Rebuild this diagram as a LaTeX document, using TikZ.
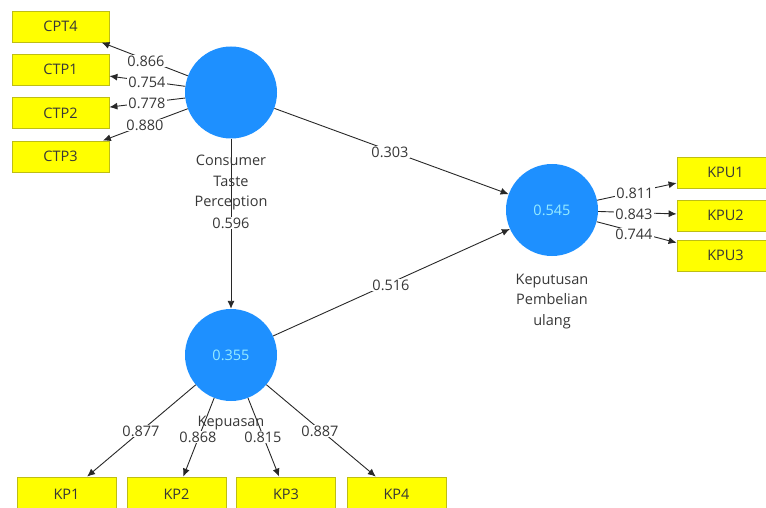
\documentclass[tikz,border=0pt]{standalone}
\usepackage{fontspec}
\setmainfont{Open Sans}
\usetikzlibrary{arrows.meta}
\definecolor{lvblue}{RGB}{30,144,255}
\definecolor{lvtext}{RGB}{150,235,255}
\definecolor{boxyellow}{RGB}{255,255,0}
\definecolor{boxborder}{RGB}{190,190,20}
\definecolor{txt}{RGB}{55,55,55}
\definecolor{lineg}{RGB}{40,40,40}
\begin{document}
\begin{tikzpicture}[x=1pt,y=-1pt,
  font=\fontsize{14.5}{20.5}\selectfont,
  ind/.style={draw=boxborder, line width=0.8pt, fill=boxyellow, minimum width=97pt, minimum height=31pt, inner sep=0pt, text=txt},
  lv/.style={circle, fill=lvblue, minimum size=92pt, inner sep=0pt, text=lvtext},
  conn/.style={draw=lineg, line width=0.9pt, -{Latex[length=8pt,width=7pt]}},
  wlab/.style={fill=white, inner sep=1pt, text=txt},
  nlab/.style={text=txt, align=center, inner sep=0pt}]
\useasboundingbox (0,0) rectangle (766,508);
% latent variables
\node[lv] (ctp) at (231,92.5) {};
\node[lv] (kep) at (231,355) {0.355};
\node[lv] (kpu) at (552,210) {0.545};
% indicators
\node[ind] (cpt4) at (60.5,26.5) {CPT4};
\node[ind] (ctp1) at (60.5,69.5) {CTP1};
\node[ind] (ctp2) at (60.5,113) {CTP2};
\node[ind] (ctp3) at (60.5,156.5) {CTP3};
\node[ind] (kpu1) at (725.5,172.5) {KPU1};
\node[ind] (kpu2) at (725.5,215.5) {KPU2};
\node[ind] (kpu3) at (725.5,255.5) {KPU3};
\node[ind, minimum width=99pt, minimum height=34pt] (kp1) at (66.5,494) {KP1};
\node[ind, minimum width=99pt, minimum height=34pt] (kp2) at (176.5,494) {KP2};
\node[ind, minimum width=99pt, minimum height=34pt] (kp3) at (286,494) {KP3};
\node[ind, minimum width=99pt, minimum height=34pt] (kp4) at (396.5,494) {KP4};
% connectors
\draw[conn] (ctp) -- (cpt4);
\draw[conn] (ctp) -- (ctp1);
\draw[conn] (ctp) -- (ctp2);
\draw[conn] (ctp) -- (ctp3);
\draw[conn] (ctp) -- (kep);
\draw[conn] (ctp) -- (kpu);
\draw[conn] (kep) -- (kpu);
\draw[conn] (kpu) -- (kpu1);
\draw[conn] (kpu) -- (kpu2);
\draw[conn] (kpu) -- (kpu3);
\draw[conn] (kep) -- (kp1);
\draw[conn] (kep) -- (kp2);
\draw[conn] (kep) -- (kp3);
\draw[conn] (kep) -- (kp4);
% edge labels
\node[wlab] (l1) at (146,61) {0.866};
\node[wlab] (l2) at (147,82) {0.754};
\node[wlab] (l3) at (147,103) {0.778};
\node[wlab] (l4) at (145,125) {0.880};
\node[wlab] (l5) at (231,223) {0.596};
\node[wlab] (l6) at (390,152) {0.303};
\node[wlab] (l7) at (391,285) {0.516};
\node[wlab] (l8) at (635,193) {0.811};
\node[wlab] (l9) at (634,214) {0.843};
\node[wlab] (l10) at (634,234) {0.744};
\node[wlab] (l11) at (141,431) {0.877};
\node[wlab] (l12) at (198,437) {0.868};
\node[wlab] (l13) at (263,437) {0.815};
\node[wlab] (l14) at (320,431) {0.887};
% latent names
\node[nlab] (ctpname) at (231,182.5) {Consumer\\Taste\\Perception};
\node[nlab] (kpuname) at (552,301.5) {Keputusan\\Pembelian\\ulang};
\node[nlab] (kepname) at (231,423) {Kepuasan};
\end{tikzpicture}
\end{document}
